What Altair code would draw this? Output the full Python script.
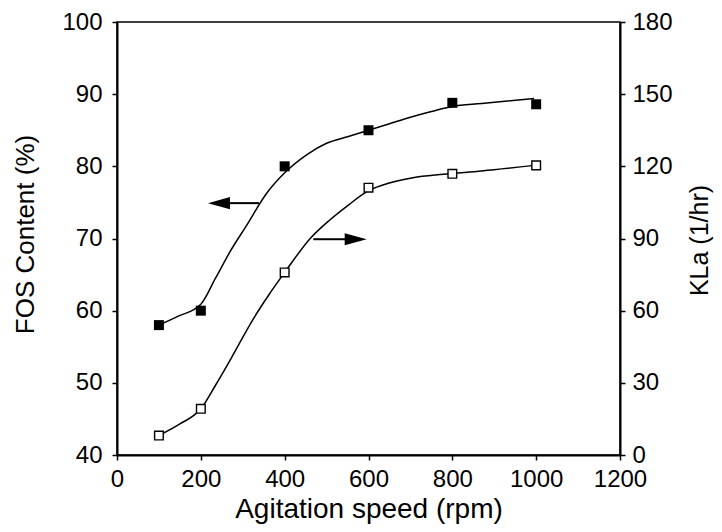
import altair as alt
import pandas as pd

# measured points
speed = [100, 200, 400, 600, 800, 1000]
fos = [58.0, 60.0, 80.0, 85.0, 88.8, 88.6]
kla = [8.1, 19.2, 75.9, 111.1, 116.9, 120.4]

# fitted curves
fos_curve_x = [100, 145, 200, 235, 270, 310, 355, 400, 455, 500, 550, 600, 650, 700, 750, 800, 870, 995]
fos_curve_y = [58.0, 59.2, 60.9, 64.5, 68.2, 71.9, 76.1, 79.1, 81.7, 83.2, 84.1, 85.0, 85.9, 86.8, 87.6, 88.3, 88.7, 89.4]
kla_curve_x = [100, 150, 200, 235, 272, 326, 362, 400, 462, 507, 552, 598, 652, 706, 779, 870, 996]
kla_curve_y = [8.1, 12.9, 19.2, 29.0, 40.1, 56.8, 66.5, 75.9, 90.2, 97.6, 103.9, 109.7, 113.2, 115.3, 116.7, 118.1, 120.4]

# arrows (left-axis units): shafts and heads
shaft_x1 = [269.6, 468.4]
shaft_x2 = [338.8, 543.9]
shaft_y = [74.9, 69.9]
head_left_x = [243.3]
head_left_y = [74.9]
head_right_x = [569.5]
head_right_y = [69.9]

FONT = "Liberation Sans"

pts = pd.DataFrame({"x": speed, "y": fos, "k": kla})
fcurve = pd.DataFrame({"x": fos_curve_x, "y": fos_curve_y})
kcurve = pd.DataFrame({"x": kla_curve_x, "k": kla_curve_y})
shafts = pd.DataFrame({"x": shaft_x1, "x2": shaft_x2, "y": shaft_y})
hl = pd.DataFrame({"x": head_left_x, "y": head_left_y})
hr = pd.DataFrame({"x": head_right_x, "y": head_right_y})

x_enc = alt.X("x:Q", scale=alt.Scale(domain=[0, 1200], nice=False),
              axis=alt.Axis(values=[0, 200, 400, 600, 800, 1000, 1200], format="d",
                            title="Agitation speed (rpm)", titleFontSize=28,
                            titleBaseline="alphabetic", titleY=62,
                            labelPadding=7))
y_left = alt.Y("y:Q", scale=alt.Scale(domain=[40, 100], nice=False),
               axis=alt.Axis(values=[40, 50, 60, 70, 80, 90, 100], format="d",
                             title="FOS Content (%)", titleFontSize=26,
                             titleAngle=270, titleBaseline="middle", titleAlign="center",
                             titleX=-92, titleY=212, labelPadding=10))
y_right = alt.Y("k:Q", scale=alt.Scale(domain=[0, 180], nice=False),
                axis=alt.Axis(orient="right", values=[0, 30, 60, 90, 120, 150, 180], format="d",
                              title="KLa (1/hr)", titleFontSize=25,
                              titleAngle=270, titleBaseline="middle", titleAlign="center",
                              titleX=79, titleY=218, labelPadding=7))

fos_line = alt.Chart(fcurve).mark_line(color="black", strokeWidth=1.5, interpolate="monotone").encode(x=x_enc, y=y_left)
fos_pts = alt.Chart(pts).mark_point(shape="square", filled=True, color="black", size=100, opacity=1).encode(x=x_enc, y=y_left)
shaft = alt.Chart(shafts).mark_rule(color="black", strokeWidth=2).encode(x=x_enc, x2="x2:Q", y=y_left)
head_l = alt.Chart(hl).mark_point(shape="M -1 0 L 1 -0.55 L 1 0.55 Z", filled=True, color="black", size=484, opacity=1).encode(x=x_enc, y=y_left)
head_r = alt.Chart(hr).mark_point(shape="M 1 0 L -1 -0.55 L -1 0.55 Z", filled=True, color="black", size=484, opacity=1).encode(x=x_enc, y=y_left)

left = alt.layer(fos_line, fos_pts, shaft, head_l, head_r)

kla_line = alt.Chart(kcurve).mark_line(color="black", strokeWidth=1.5, interpolate="monotone").encode(x=x_enc, y=y_right)
kla_pts = alt.Chart(pts).mark_point(shape="square", filled=True, fill="white", stroke="black", strokeWidth=1.4, size=75, opacity=1).encode(x=x_enc, y=y_right)
right = alt.layer(kla_line, kla_pts)

chart = alt.layer(left, right).resolve_scale(y="independent").properties(
    width=503, height=433,
    padding={"left": 109, "top": 14, "right": 94, "bottom": 69},
    autosize=alt.AutoSizeParams(type="none"),
    background="white",
).configure_view(stroke="black", strokeWidth=1.5).configure_axis(
    grid=False, domainColor="black", domainWidth=2, tickColor="black", tickWidth=1.5,
    tickSize=5, labelFont=FONT, labelFontSize=24, labelColor="black",
    labelFlush=False, labelOverlap=False, titleFont=FONT, titleFontWeight="normal",
    titleColor="black",
)

chart.save("out.html", embed_options={"renderer": "svg", "actions": False})
